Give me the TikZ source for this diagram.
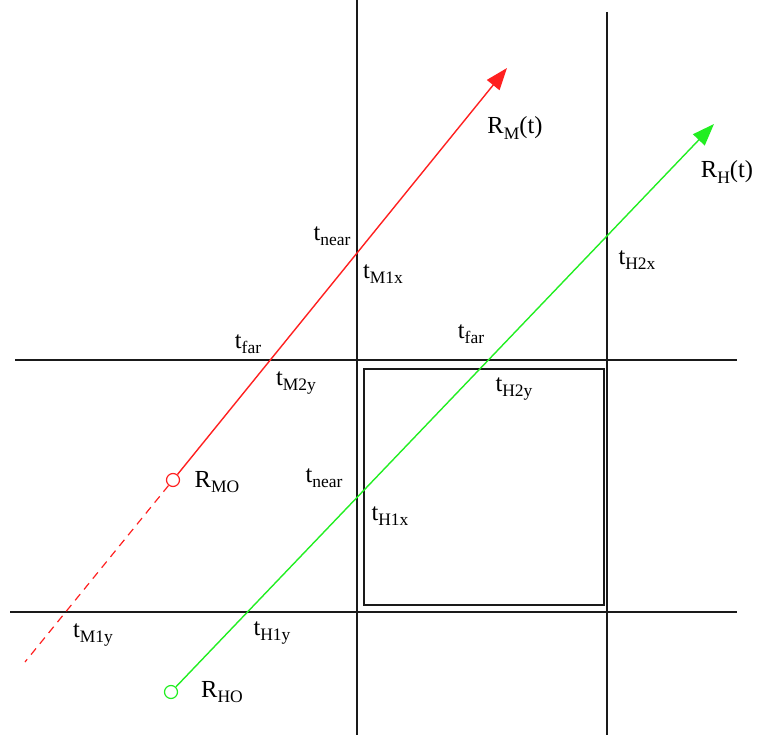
\documentclass[tikz,border=0pt]{standalone}
\usepackage{fontspec}
\setmainfont{Liberation Serif}
\usetikzlibrary{arrows.meta, positioning}
\definecolor{rred}{HTML}{FF2020}
\definecolor{rgreen}{HTML}{22EE22}
\definecolor{cblack}{HTML}{1A1A1A}
\newcommand{\lowsub}[1]{\raisebox{-0.22em}{\fontsize{17.5}{17.5}\selectfont #1}}
\tikzset{
  every picture/.style={x=1pt, y=-1pt},
  grid/.style={draw=cblack, line width=1.2pt},
  ray/.style={line width=1.4pt, -{Triangle[length=22pt, width=16pt]}},
  back/.style={line width=1.2pt, dashed, dash pattern=on 8pt off 6pt},
  origin/.style={circle, draw, line width=1.2pt, minimum size=13pt, inner sep=0pt},
  lab/.style={font=\fontsize{24.5}{24.5}\selectfont, inner sep=0pt},
}
\begin{document}
\begin{tikzpicture}
  \useasboundingbox (0,0) rectangle (757,735);

  % grid
  \draw[grid] (357,0) -- (357,735);
  \draw[grid] (607,12) -- (607,735);
  \draw[grid] (15,360) -- (737,360);
  \draw[grid] (10,612) -- (737,612);
  \draw[grid] (364,369) rectangle (604,605);

  % ray M
  \node[origin, draw=rred] (mo) at (173,480) {};
  \coordinate (mtip) at (507,68);
  \coordinate (mtail) at (25,662);
  \draw[ray, rred] (mo) -- (mtip);
  \draw[back, rred] (mo) -- (mtail);

  % ray H
  \node[origin, draw=rgreen] (ho) at (171,692) {};
  \coordinate (htip) at (714,124);
  \draw[ray, rgreen] (ho) -- (htip);

  % labels
  \node[lab] (rm)   at (515,128) {R\lowsub{M}(t)};
  \node[lab] (rh)   at (727,172) {R\lowsub{H}(t)};
  \node[lab] (rmo)  at (217,482) {R\lowsub{MO}};
  \node[lab] (rho)  at (222,692) {R\lowsub{HO}};
  \node[lab] (mn)   at (332,236) {t\lowsub{near}};
  \node[lab] (m1x)  at (383,274) {t\lowsub{M1x}};
  \node[lab] (mf)   at (248,344) {t\lowsub{far}};
  \node[lab] (m2y)  at (296,383) {t\lowsub{M2y}};
  \node[lab] (m1y)  at (93,635)  {t\lowsub{M1y}};
  \node[lab] (hf)   at (471,334) {t\lowsub{far}};
  \node[lab] (h2y)  at (514,389) {t\lowsub{H2y}};
  \node[lab] (h2x)  at (637,260) {t\lowsub{H2x}};
  \node[lab] (hn)   at (324,478) {t\lowsub{near}};
  \node[lab] (h1x)  at (390,516) {t\lowsub{H1x}};
  \node[lab] (h1y)  at (272,633) {t\lowsub{H1y}};
\end{tikzpicture}
\end{document}
